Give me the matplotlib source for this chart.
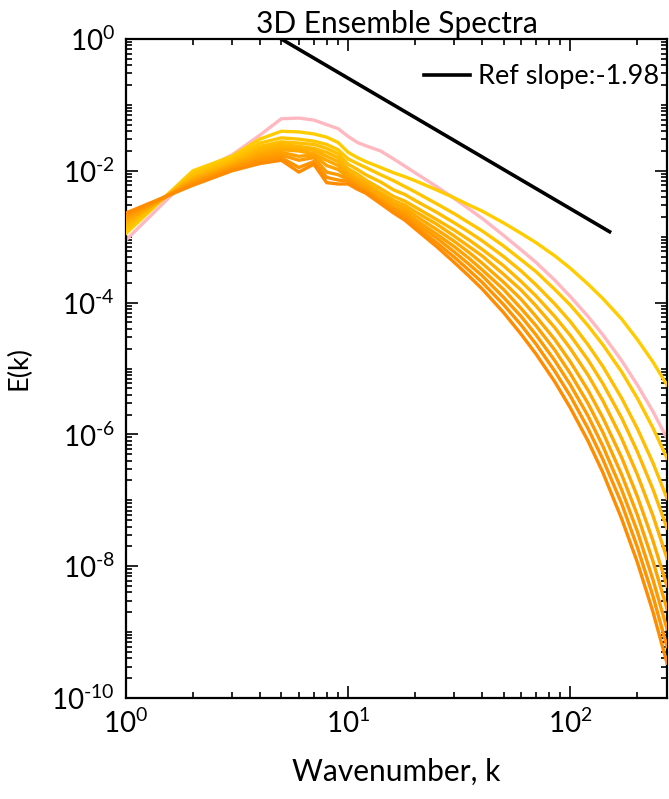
import numpy as np
import matplotlib
matplotlib.use("Agg")
import matplotlib.pyplot as plt
from matplotlib.ticker import FixedLocator, NullFormatter

plt.rcParams['font.family'] = ['Lato', 'DejaVu Sans']
plt.rcParams['mathtext.fontset'] = 'custom'
plt.rcParams['mathtext.rm'] = 'Lato'
plt.rcParams['mathtext.it'] = 'Lato:italic'
plt.rcParams['mathtext.default'] = 'regular'

# Wavenumbers at which the shell-averaged spectra are sampled
k = np.array([1, 2, 3, 4, 5, 6, 7, 8, 9, 10, 11, 12, 14, 16, 18, 20, 25, 30, 35,
              40, 50, 60, 70, 85, 100, 120, 140, 170, 200, 235, 272])

# log10 E(k) for each ensemble member (yellow -> orange)
logE_m0 = [-2.95, -2.00, -1.78, -1.52, -1.40, -1.41, -1.44, -1.49, -1.57, -1.72, -1.80, -1.86, -1.95, -2.03, -2.09, -2.15,
           -2.29, -2.41, -2.52, -2.61, -2.79, -2.95, -3.09, -3.29, -3.48, -3.72, -3.94, -4.25, -4.56, -4.90, -5.25]
logE_m1 = [-2.90, -2.04, -1.82, -1.58, -1.50, -1.52, -1.55, -1.60, -1.68, -1.82, -1.89, -1.95, -2.06, -2.15, -2.24, -2.32,
           -2.50, -2.65, -2.79, -2.91, -3.14, -3.35, -3.53, -3.80, -4.04, -4.35, -4.64, -5.05, -5.45, -5.90, -6.36]
logE_m2 = [-2.86, -2.07, -1.85, -1.63, -1.56, -1.58, -1.60, -1.66, -1.74, -1.90, -1.98, -2.06, -2.17, -2.29, -2.36, -2.45,
           -2.63, -2.79, -2.93, -3.06, -3.30, -3.52, -3.73, -4.02, -4.29, -4.64, -4.97, -5.45, -5.91, -6.43, -6.97]
logE_m3 = [-2.82, -2.10, -1.88, -1.67, -1.60, -1.63, -1.66, -1.72, -1.80, -1.97, -2.05, -2.14, -2.27, -2.39, -2.46, -2.55,
           -2.74, -2.90, -3.05, -3.19, -3.44, -3.68, -3.90, -4.21, -4.50, -4.87, -5.23, -5.75, -6.26, -6.83, -7.42]
logE_m4 = [-2.79, -2.12, -1.90, -1.71, -1.64, -1.66, -1.69, -1.78, -1.86, -2.02, -2.11, -2.19, -2.33, -2.45, -2.52, -2.62,
           -2.81, -2.99, -3.15, -3.29, -3.57, -3.81, -4.05, -4.38, -4.70, -5.10, -5.49, -6.06, -6.61, -7.23, -7.88]
logE_m5 = [-2.76, -2.14, -1.92, -1.75, -1.68, -1.70, -1.74, -1.84, -1.92, -2.06, -2.15, -2.23, -2.37, -2.50, -2.57, -2.68,
           -2.89, -3.07, -3.24, -3.40, -3.69, -3.95, -4.21, -4.56, -4.90, -5.33, -5.75, -6.35, -6.94, -7.61, -8.30]
logE_m6 = [-2.73, -2.16, -1.94, -1.78, -1.72, -1.78, -1.76, -1.92, -1.98, -2.10, -2.19, -2.27, -2.42, -2.55, -2.62, -2.74,
           -2.96, -3.15, -3.33, -3.50, -3.80, -4.09, -4.35, -4.72, -5.08, -5.53, -5.97, -6.61, -7.22, -7.92, -8.65]
logE_m7 = [-2.70, -2.18, -1.96, -1.82, -1.76, -1.84, -1.80, -2.02, -2.06, -2.13, -2.22, -2.30, -2.45, -2.58, -2.67, -2.79,
           -3.02, -3.23, -3.42, -3.59, -3.92, -4.21, -4.49, -4.88, -5.25, -5.72, -6.18, -6.84, -7.47, -8.20, -8.95]
logE_m8 = [-2.67, -2.20, -1.98, -1.85, -1.80, -1.95, -1.86, -2.10, -2.14, -2.16, -2.25, -2.32, -2.48, -2.61, -2.71, -2.84,
           -3.09, -3.31, -3.51, -3.69, -4.03, -4.34, -4.63, -5.04, -5.42, -5.91, -6.38, -7.05, -7.71, -8.45, -9.22]
logE_m9 = [-2.64, -2.22, -2.00, -1.89, -1.84, -2.02, -1.90, -2.18, -2.20, -2.20, -2.28, -2.34, -2.50, -2.64, -2.75, -2.88,
           -3.15, -3.39, -3.60, -3.79, -4.15, -4.48, -4.78, -5.20, -5.60, -6.10, -6.58, -7.28, -7.94, -8.69, -9.47]

# log10 E(k) of the ensemble mean
logE_mean = [-3.05, -2.05, -1.76, -1.46, -1.21, -1.20, -1.23, -1.30, -1.36, -1.48, -1.57, -1.62, -1.70, -1.82, -1.93, -2.03,
             -2.24, -2.42, -2.58, -2.72, -2.98, -3.20, -3.39, -3.66, -3.91, -4.21, -4.49, -4.88, -5.25, -5.65, -6.06]

members = [logE_m0, logE_m1, logE_m2, logE_m3, logE_m4,
           logE_m5, logE_m6, logE_m7, logE_m8, logE_m9]

# Reference power law
ref_k = [5, 150]
ref_E = [1.0, 1.19e-3]
ref_slope = -1.98

x_tick_exp = [0, 1, 2]
y_tick_exp = [-10, -8, -6, -4, -2, 0]


def pow10_label(e):
    sign = r'\text{-}' if e < 0 else ''
    return rf'$10^{{{sign}{abs(e)}}}$'


fig = plt.figure(figsize=(6.69, 7.99), dpi=100)
ax = fig.add_axes([126 / 669, 1 - 698 / 799, (667 - 126) / 669, (698 - 39) / 799])

ax.plot(k, 10 ** np.array(logE_mean), color='#ffb8c0', lw=2.4, zorder=2)
greens = np.linspace(0.80, 0.55, len(members))
for g, logE in zip(greens, members):
    ax.plot(k, 10 ** np.array(logE), color=(1.0, g, 0.0), lw=2.4, zorder=3)

ax.plot(ref_k, ref_E, color='black', lw=2.6, zorder=4,
        label=f'Ref slope:{ref_slope:.2f}')

ax.set_xscale('log')
ax.set_yscale('log')
ax.set_xlim(1, 272)
ax.set_ylim(1e-10, 1)

ax.xaxis.set_major_locator(FixedLocator([10.0 ** e for e in x_tick_exp]))
ax.xaxis.set_minor_locator(FixedLocator([m * 10 ** d for d in range(0, 3) for m in range(2, 10)]))
ax.set_xticklabels([pow10_label(e) for e in x_tick_exp])
ax.xaxis.set_minor_formatter(NullFormatter())

ymaj = [10.0 ** e for e in y_tick_exp]
ax.yaxis.set_major_locator(FixedLocator(ymaj))
ymin = [m * 10.0 ** d for d in range(-10, 0) for m in range(1, 10)]
ymin = [v for v in ymin if not any(abs(v - t) / t < 1e-6 for t in ymaj)]
ax.yaxis.set_minor_locator(FixedLocator(ymin))
ax.set_yticklabels([pow10_label(e) for e in y_tick_exp])
ax.yaxis.set_minor_formatter(NullFormatter())

ax.tick_params(which='both', direction='in', top=True, right=True, width=1.2,
               labelsize=20, colors='black')
ax.tick_params(which='major', length=8.5, pad=8)
ax.tick_params(which='minor', length=4.5)
for s in ax.spines.values():
    s.set_linewidth(1.6)

ax.set_xlabel('Wavenumber, k', fontsize=21.5, labelpad=14)
ax.set_ylabel('E(k)', fontsize=19.5, labelpad=14)
ax.set_title('3D Ensemble Spectra', fontsize=21.5, pad=4)

ax.legend(loc='upper right', bbox_to_anchor=(0.985, 0.962), frameon=False,
          fontsize=19.5, handlelength=1.7, handletextpad=0.3,
          borderaxespad=0.0, borderpad=0.0)

fig.savefig('out.png', dpi=100)
